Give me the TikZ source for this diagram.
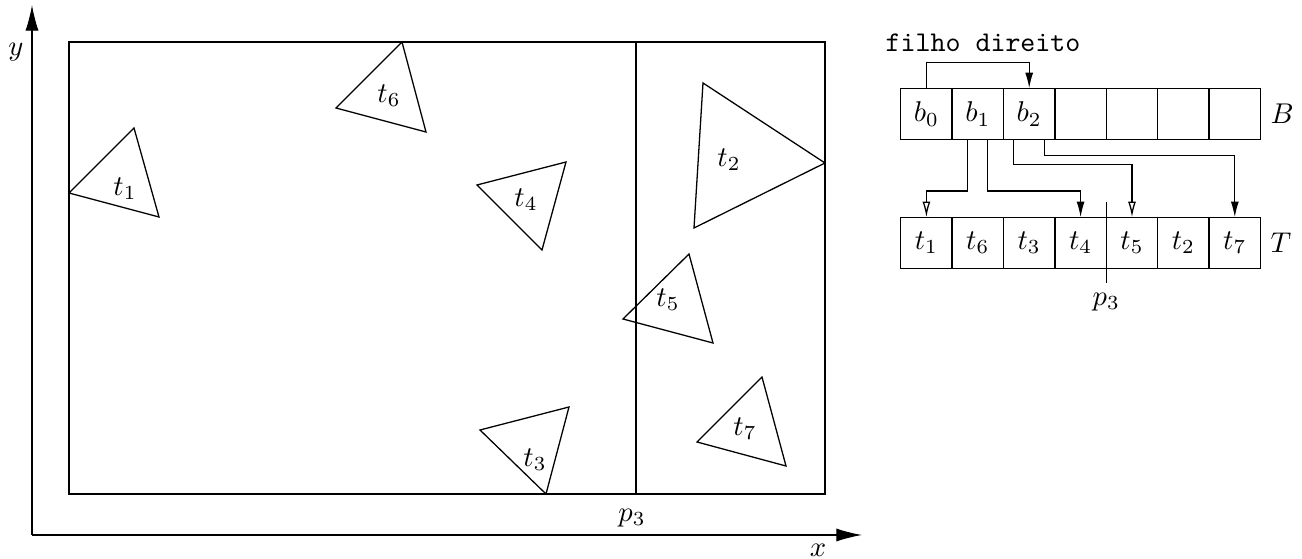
\documentclass[tikz,border=0pt]{standalone}
\usepackage{amsmath,amssymb}
\usepackage{xcolor}
\usepackage{tikz}
\usetikzlibrary{calc,arrows.meta}
\tikzset{tri/.style={black},
  axis/.style={-{Latex[length=9pt,width=4.6pt]}},
  cell/.style={draw,minimum size=18pt,inner sep=0pt,outer sep=0pt},
  ptr/.style={-{Latex[length=5.5pt,width=2.8pt]}},
  optr/.style={-{Latex[open,length=5.5pt,width=2.8pt]}}}

\begin{document}
\begin{tikzpicture}[x=0.35pt,y=-0.35pt,line width=0.45pt]
\useasboundingbox (0,0) rectangle (1302,559);
% axes and bounding rectangle
\coordinate (O) at (32,535); \coordinate (X) at (862,535); \coordinate (Y) at (32,5);
\draw[axis] (O)--(X); \draw[axis] (O)--(Y);
\node (xl) at (818,550) {$x$}; \node (yl) at (16,52) {$y$};
\draw (69,42) rectangle (825,494);
\draw (636,42)--(636,494); \node (p3l) at (632,518) {$p_3$};
% triangles
\draw[tri] (69,193)--(134,128)--(159,217)--cycle; \node (lt1) at (125,189) {$t_1$};
\draw[tri] (703,83)--(825,163)--(694,228)--cycle; \node (lt2) at (729,160) {$t_2$};
\draw[tri] (569,407)--(546,494)--(480,430)--cycle; \node (lt3) at (535,460) {$t_3$};
\draw[tri] (477,185)--(566,162)--(542,250)--cycle; \node (lt4) at (526,200) {$t_4$};
\draw[tri] (689,254)--(713,343)--(623,319)--cycle; \node (lt5) at (668,300) {$t_5$};
\draw[tri] (402,42)--(336,108)--(426,132)--cycle; \node (lt6) at (389,96) {$t_6$};
\draw[tri] (762,377)--(786,466)--(697,442)--cycle; \node (lt7) at (745,429) {$t_7$};
% arrays B and T
\foreach \lab [count=\i from 0] in {$b_0$,$b_1$,$b_2$,,,,}
  \node[cell] (B\i) at (926.4+51.4*\i,114) {\lab};
\foreach \lab [count=\i from 0] in {$t_1$,$t_6$,$t_3$,$t_4$,$t_5$,$t_2$,$t_7$}
  \node[cell] (T\i) at (926.4+51.4*\i,243) {\lab};
\node[right] (Bl) at (B6.east) {$B$}; \node[right] (Tl) at (T6.east) {$T$};
\node (fd) at (983,43) {\texttt{filho direito}};
\draw[ptr] (B0.north) -- ++(0,9pt) -| (B2.north);
\draw[optr] ([xshift=-3.5pt]B1.south) -- ++(0,-18pt) -| (T0.north);
\draw[ptr] ([xshift=3.3pt]B1.south) -- ++(0,-18pt) -| (T3.north);
\draw[optr] ([xshift=-5.6pt]B2.south) -- ++(0,-8.75pt) -| (T4.north);
\draw[ptr] ([xshift=5.3pt]B2.south) -- ++(0,-5.5pt) -| (T6.north);
\draw ([yshift=5.5pt]T3.north east) -- ([yshift=-5pt]T3.south east) node[below] (p3r) {$p_3$};
\end{tikzpicture}
\end{document}
